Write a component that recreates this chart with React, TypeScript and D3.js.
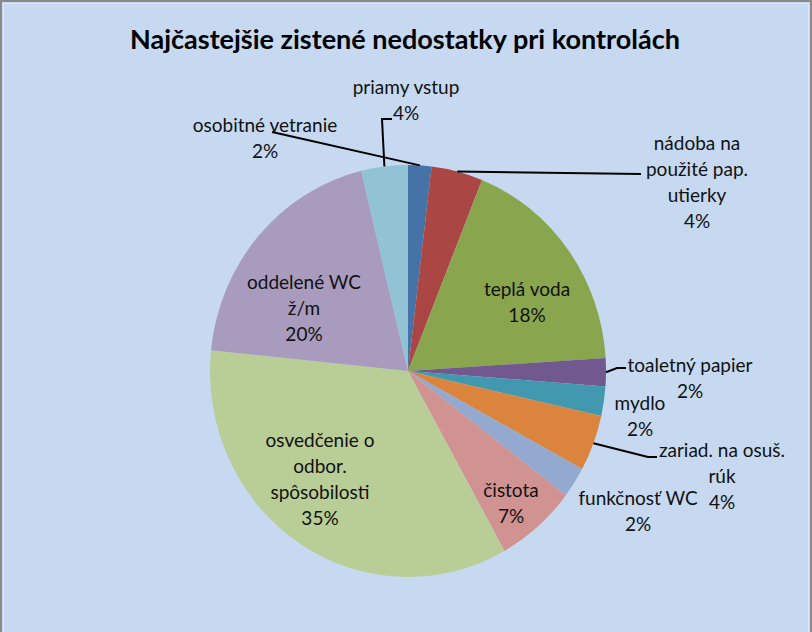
import React from "react";
import * as d3 from "d3";

const title = "Najčastejšie zistené nedostatky pri kontrolách";
const categories = [
  "osobitné vetranie",
  "nádoba na použité pap. utierky",
  "teplá voda",
  "toaletný papier",
  "mydlo",
  "zariad. na osuš. rúk",
  "funkčnosť WC",
  "čistota",
  "osvedčenie o odbor. spôsobilosti",
  "oddelené WC ž/m",
  "priamy vstup",
];
const values = [1.9, 4.2, 17.9, 2.2, 2.3, 4.4, 2.4, 6.6, 34.7, 19.6, 3.8];
const labelLines = [
  ["osobitné vetranie"],
  ["nádoba na", "použité pap.", "utierky"],
  ["teplá voda"],
  ["toaletný papier"],
  ["mydlo"],
  ["zariad. na osuš.", "rúk"],
  ["funkčnosť WC"],
  ["čistota"],
  ["osvedčenie o", "odbor.", "spôsobilosti"],
  ["oddelené WC", "ž/m"],
  ["priamy vstup"],
];
const colors = [
  "#4572A7", "#AA4643", "#89A54E", "#71588F", "#4198AF", "#DB843D",
  "#93A9CF", "#D19392", "#B9CD96", "#A99BBD", "#91C3D5",
];

// layout (label block centre x, first-line y; leader knee points)
const W = 812, H = 632;
const CX = 408, CY = 371, R = 198, RY = 206;
const LH = 26;
const labelPos: { x: number; y: number; leader?: [number, number][] }[] = [
  { x: 265, y: 125, leader: [[272, 132]] },
  { x: 697, y: 143, leader: [[641, 174]] },
  { x: 527, y: 289 },
  { x: 690, y: 365, leader: [[626, 368], [617, 368]] },
  { x: 640, y: 403 },
  { x: 722, y: 450, leader: [[657, 457], [648, 457]] },
  { x: 638, y: 498 },
  { x: 511, y: 490 },
  { x: 320, y: 440 },
  { x: 304, y: 282 },
  { x: 406, y: 87, leader: [[392, 119], [382, 119]] },
];

export default function App() {
  const total = d3.sum(values);
  const pie = d3.pie<number>().sort(null).value((d) => d)(values);
  const arc = d3.arc<d3.PieArcDatum<number>>().innerRadius(0).outerRadius(R);
  const font = "Lato, 'Open Sans', sans-serif";
  return (
    <svg width={W} height={H} style={{ position: "absolute", left: 0, top: 0 }}>
      <rect x={0} y={0} width={W} height={H} fill="#C6D9F1" />
      <rect x={1} y={1} width={W - 2} height={H + 10} fill="none" stroke="#8A8A8A" strokeWidth={2} />
      <rect x={3.5} y={3.5} width={W - 7} height={H + 10} fill="none" stroke="#DCE6F4" strokeWidth={1} />
      <text x={405} y={40} dy="0.35em" textAnchor="middle" fontFamily={font} fontWeight="bold"
        fontSize={27} textLength={550} lengthAdjust="spacingAndGlyphs" fill="#000">{title}</text>
      <g transform={`translate(${CX},${CY}) scale(1,${RY / R})`}>
        {pie.map((p, i) => (
          <path key={categories[i]} d={arc(p) || ""} fill={colors[i]} />
        ))}
      </g>
      {pie.map((p, i) => {
        const lp = labelPos[i];
        if (!lp.leader) return null;
        const mid = (p.startAngle + p.endAngle) / 2;
        const ex = CX + R * Math.sin(mid);
        const ey = CY - RY * Math.cos(mid);
        const pts = [...lp.leader, [ex, ey]];
        return (
          <polyline key={"l" + i} points={pts.map((q) => q.join(",")).join(" ")}
            fill="none" stroke="#000" strokeWidth={2} />
        );
      })}
      {pie.map((p, i) => {
        const lp = labelPos[i];
        const lines = [...labelLines[i], Math.round((values[i] / total) * 100) + "%"];
        return (
          <text key={"t" + i} textAnchor="middle" fontFamily={font} fontSize={19} fill="#111">
            {lines.map((s, j) => (
              <tspan key={j} x={lp.x} y={lp.y + j * LH} dy="0.35em">{s}</tspan>
            ))}
          </text>
        );
      })}
    </svg>
  );
}
